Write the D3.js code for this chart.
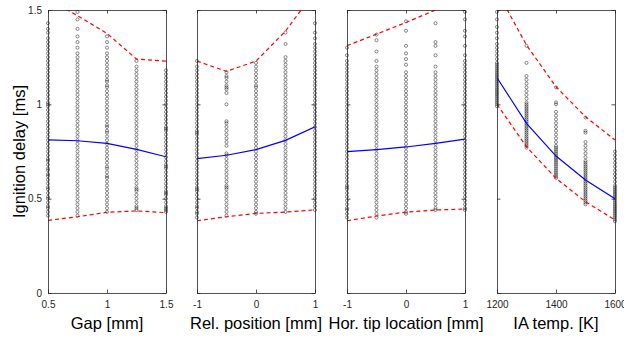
<!DOCTYPE html>
<html>
<head>
<meta charset="utf-8">
<script src="https://cdn.jsdelivr.net/npm/d3@7"></script>
<style>
  html, body { margin: 0; padding: 0; background: #fff; }
  svg { display: block; font-family: "Liberation Sans", Arial, sans-serif; }
</style>
</head>
<body>
<svg id="chart" width="624" height="338"></svg>
<script>
// ---------------- DATA ----------------
const yTickValues = [0, 0.5, 1, 1.5];
const yTickLabels = ["0", "0.5", "1", "1.5"];
const yTitle = "Ignition delay [ms]";

// Panel 1: Gap
const gapTitle = "Gap [mm]";
const gapX = [0.5, 0.75, 1, 1.25, 1.5];
const gapTicks = [0.5, 1, 1.5];
const gapTickLabels = ["0.5", "1", "1.5"];
const gapPoints = [
  [0.41,0.43,0.45,0.46,0.48,0.50,0.51,0.53,0.55,0.56,0.58,0.60,0.62,0.63,0.65,0.66,0.68,0.70,0.71,0.73,0.75,0.77,0.79,0.81,0.83,0.85,0.87,0.89,0.91,0.93,0.95,0.97,0.99,1.00,1.01,1.03,1.05,1.07,1.09,1.11,1.13,1.15,1.17,1.19,1.21,1.23,1.25,1.27,1.29,1.31,1.33,1.35,1.38,1.40,1.43],
  [0.41,0.43,0.45,0.47,0.49,0.51,0.53,0.55,0.57,0.59,0.61,0.63,0.65,0.67,0.69,0.71,0.73,0.75,0.77,0.79,0.81,0.83,0.85,0.87,0.89,0.91,0.93,0.95,0.97,0.99,1.01,1.03,1.05,1.07,1.09,1.11,1.13,1.15,1.17,1.19,1.21,1.23,1.25,1.27,1.30,1.33,1.36,1.40,1.45,1.49],
  [0.43,0.45,0.47,0.49,0.51,0.53,0.55,0.57,0.59,0.61,0.62,0.64,0.66,0.67,0.69,0.71,0.73,0.75,0.77,0.79,0.81,0.83,0.85,0.86,0.88,0.89,0.91,0.93,0.95,0.97,0.99,1.01,1.03,1.05,1.07,1.09,1.10,1.12,1.13,1.15,1.17,1.19,1.21,1.23,1.25,1.27,1.30,1.33,1.36],
  [0.44,0.45,0.46,0.48,0.50,0.52,0.54,0.55,0.56,0.58,0.60,0.62,0.64,0.66,0.68,0.70,0.72,0.74,0.76,0.78,0.80,0.82,0.84,0.86,0.88,0.90,0.92,0.94,0.96,0.98,1.00,1.02,1.04,1.06,1.08,1.10,1.12,1.14,1.16,1.18,1.20,1.23],
  [0.43,0.44,0.45,0.46,0.48,0.50,0.52,0.53,0.54,0.56,0.58,0.60,0.62,0.64,0.66,0.67,0.68,0.70,0.72,0.74,0.76,0.78,0.80,0.82,0.84,0.86,0.87,0.88,0.90,0.92,0.94,0.96,0.98,1.00,1.02,1.04,1.06,1.08,1.10,1.12,1.14,1.16,1.18]
];
const gapFit   = [0.812, 0.807, 0.793, 0.761, 0.722];
const gapUpper = [1.56, 1.47, 1.376, 1.24, 1.229];
const gapLower = [0.385, 0.404, 0.428, 0.435, 0.426];

// Panel 2: Relative position
const relTitle = "Rel. position [mm]";
const relX = [-1, -0.5, 0, 0.5, 1];
const relTicks = [-1, 0, 1];
const relTickLabels = ["-1", "0", "1"];
const relPoints = [
  [0.40,0.42,0.43,0.45,0.46,0.48,0.50,0.52,0.54,0.55,0.56,0.58,0.60,0.62,0.64,0.66,0.68,0.70,0.72,0.74,0.76,0.78,0.80,0.82,0.84,0.85,0.86,0.88,0.90,0.92,0.94,0.96,0.98,1.00,1.02,1.04,1.06,1.08,1.10,1.12,1.14,1.16,1.18,1.20,1.23],
  [0.41,0.43,0.45,0.47,0.49,0.51,0.53,0.55,0.56,0.57,0.59,0.61,0.63,0.65,0.67,0.69,0.71,0.73,0.74,0.78,0.80,0.82,0.84,0.86,0.88,0.90,0.91,1.00,1.06,1.08,1.09,1.10,1.12,1.14,1.15,1.17],
  [0.42,0.43,0.45,0.47,0.49,0.51,0.53,0.55,0.57,0.59,0.61,0.63,0.65,0.67,0.69,0.71,0.73,0.75,0.77,0.79,0.81,0.83,0.85,0.87,0.89,0.91,0.93,0.95,0.97,0.99,1.01,1.03,1.05,1.07,1.09,1.10,1.12,1.14,1.16,1.18,1.20,1.22],
  [0.43,0.45,0.47,0.49,0.51,0.53,0.55,0.57,0.59,0.61,0.63,0.65,0.67,0.69,0.71,0.73,0.75,0.77,0.79,0.81,0.83,0.85,0.87,0.89,0.91,0.93,0.95,0.97,0.99,1.01,1.03,1.05,1.07,1.09,1.11,1.13,1.15,1.17,1.19,1.21,1.23,1.25,1.32,1.38],
  [0.44,0.46,0.48,0.50,0.52,0.54,0.56,0.58,0.60,0.62,0.64,0.66,0.68,0.70,0.72,0.74,0.76,0.78,0.80,0.82,0.84,0.86,0.88,0.90,0.92,0.94,0.96,0.98,1.00,1.02,1.04,1.06,1.08,1.10,1.12,1.14,1.16,1.18,1.20,1.22,1.24,1.26,1.28,1.30,1.32,1.35,1.38,1.43]
];
const relFit   = [0.712, 0.730, 0.760, 0.809, 0.881];
const relUpper = [1.229, 1.175, 1.229, 1.388, 1.60];
const relLower = [0.383, 0.404, 0.422, 0.429, 0.441];

// Panel 3: Horizontal tip location
const horTitle = "Hor. tip location [mm]";
const horX = [-1, -0.5, 0, 0.5, 1];
const horTicks = [-1, 0, 1];
const horTickLabels = ["-1", "0", "1"];
const horPoints = [
  [0.40,0.42,0.44,0.45,0.47,0.49,0.51,0.53,0.55,0.56,0.57,0.59,0.61,0.63,0.65,0.67,0.69,0.71,0.73,0.75,0.77,0.79,0.81,0.83,0.85,0.87,0.89,0.91,0.93,0.95,0.97,0.99,1.01,1.03,1.05,1.07,1.09,1.11,1.13,1.15,1.17,1.19,1.21,1.23,1.26,1.30],
  [0.40,0.42,0.44,0.46,0.48,0.50,0.52,0.54,0.56,0.58,0.60,0.62,0.64,0.66,0.68,0.70,0.72,0.74,0.76,0.78,0.80,0.82,0.84,0.86,0.88,0.90,0.92,0.94,0.96,0.98,1.00,1.02,1.04,1.06,1.08,1.10,1.12,1.14,1.16,1.18,1.20,1.23,1.28,1.34,1.37],
  [0.42,0.43,0.45,0.47,0.49,0.51,0.53,0.55,0.57,0.59,0.61,0.63,0.65,0.67,0.69,0.71,0.73,0.75,0.77,0.79,0.81,0.83,0.85,0.87,0.89,0.91,0.93,0.95,0.97,0.99,1.01,1.03,1.05,1.07,1.09,1.11,1.13,1.15,1.17,1.21,1.24,1.27,1.31,1.39,1.44],
  [0.44,0.45,0.47,0.49,0.51,0.53,0.55,0.57,0.59,0.61,0.63,0.65,0.67,0.69,0.71,0.73,0.75,0.77,0.79,0.81,0.83,0.85,0.87,0.89,0.91,0.93,0.95,0.97,0.99,1.01,1.03,1.05,1.07,1.09,1.11,1.13,1.15,1.17,1.20,1.26,1.31,1.33,1.43],
  [0.44,0.45,0.47,0.49,0.51,0.53,0.55,0.57,0.59,0.61,0.63,0.65,0.67,0.69,0.71,0.73,0.75,0.77,0.79,0.81,0.83,0.85,0.87,0.89,0.91,0.93,0.95,0.97,0.99,1.01,1.03,1.05,1.07,1.09,1.11,1.13,1.15,1.17,1.19,1.21,1.23,1.26,1.31,1.36,1.39,1.45,1.49]
];
const horFit   = [0.749, 0.760, 0.774, 0.793, 0.816];
const horUpper = [1.311, 1.372, 1.434, 1.50, 1.58];
const horLower = [0.383, 0.408, 0.429, 0.440, 0.445];

// Panel 4: IA temperature
const tempTitle = "IA temp. [K]";
const tempX = [1200, 1300, 1400, 1500, 1600];
const tempTicks = [1200, 1400, 1600];
const tempTickLabels = ["1200", "1400", "1600"];
const tempPoints = [
  [0.99,1.00,1.01,1.02,1.03,1.04,1.05,1.06,1.07,1.08,1.09,1.10,1.11,1.12,1.13,1.14,1.15,1.16,1.17,1.18,1.19,1.20,1.21,1.22,1.24,1.26,1.28,1.30,1.32,1.35,1.38,1.41,1.45,1.49],
  [0.77,0.78,0.79,0.80,0.81,0.82,0.83,0.84,0.85,0.86,0.87,0.88,0.89,0.90,0.91,0.92,0.93,0.94,0.95,0.96,0.97,0.98,0.99,1.00,1.01,1.03,1.05,1.07,1.09,1.11,1.13,1.15,1.22,1.31],
  [0.61,0.62,0.63,0.64,0.65,0.66,0.67,0.68,0.69,0.70,0.71,0.72,0.73,0.74,0.75,0.76,0.77,0.78,0.80,0.82,0.84,0.86,0.88,0.90,0.92,0.94,0.96,1.00,1.01,1.09],
  [0.47,0.48,0.49,0.50,0.51,0.52,0.53,0.54,0.55,0.56,0.57,0.58,0.59,0.60,0.61,0.62,0.63,0.64,0.65,0.66,0.67,0.68,0.69,0.70,0.72,0.74,0.76,0.78,0.80,0.85,0.86,0.93],
  [0.38,0.39,0.40,0.41,0.42,0.43,0.44,0.45,0.46,0.47,0.48,0.49,0.50,0.51,0.52,0.53,0.54,0.55,0.56,0.57,0.59,0.61,0.63,0.65,0.67,0.69,0.71,0.73,0.75]
];
const tempFit   = [1.141, 0.899, 0.726, 0.599, 0.500];
const tempUpper = [1.60, 1.314, 1.093, 0.934, 0.811];
const tempLower = [1.000, 0.775, 0.608, 0.484, 0.387];

// ---------------- LAYOUT ----------------
const svg = d3.select("#chart");
const topY = 10, bottomY = 293, pw = 118;
const lefts = [48, 197, 347, 497];
const axisColor = "#262626";
const tickLen = 3.5;

const panels = [
  { title: gapTitle, xs: gapX, ticks: gapTicks, tickLabels: gapTickLabels, pts: gapPoints, fit: gapFit, up: gapUpper, lo: gapLower },
  { title: relTitle, xs: relX, ticks: relTicks, tickLabels: relTickLabels, pts: relPoints, fit: relFit, up: relUpper, lo: relLower },
  { title: horTitle, xs: horX, ticks: horTicks, tickLabels: horTickLabels, pts: horPoints, fit: horFit, up: horUpper, lo: horLower },
  { title: tempTitle, xs: tempX, ticks: tempTicks, tickLabels: tempTickLabels, pts: tempPoints, fit: tempFit, up: tempUpper, lo: tempLower }
];

const y = d3.scaleLinear().domain([0, 1.5]).range([bottomY, topY]);

panels.forEach((p, i) => {
  const left = lefts[i];
  const x = d3.scaleLinear().domain(d3.extent(p.xs)).range([left, left + pw]);
  const g = svg.append("g");

  const clipId = "clip" + i;
  svg.append("clipPath").attr("id", clipId)
    .append("rect").attr("x", left).attr("y", topY).attr("width", pw).attr("height", bottomY - topY);

  // scatter
  const flat = [];
  p.pts.forEach((col, ci) => col.forEach(v => flat.push([p.xs[ci], v])));
  g.append("g").selectAll("circle").data(flat).join("circle")
    .attr("cx", d => x(d[0])).attr("cy", d => y(d[1])).attr("r", 1.55)
    .attr("fill", "none").attr("stroke", "#000").attr("stroke-opacity", 0.7).attr("stroke-width", 0.65);

  const line = d3.line().x((d, k) => x(p.xs[k])).y(d => y(d));
  const lg = g.append("g").attr("clip-path", `url(#${clipId})`);
  lg.append("path").attr("d", line(p.fit)).attr("fill", "none").attr("stroke", "#0000ff").attr("stroke-width", 1.2);
  [p.up, p.lo].forEach(arr => {
    lg.append("path").attr("d", line(arr)).attr("fill", "none").attr("stroke", "#ff0000")
      .attr("stroke-width", 1.2).attr("stroke-dasharray", "4,3");
  });

  // axes box + inward ticks
  const xb = d3.axisBottom(x).tickValues(p.ticks).tickSizeInner(-tickLen).tickSizeOuter(0)
    .tickFormat((d, k) => p.tickLabels[k]).tickPadding(8);
  const xt = d3.axisTop(x).tickValues(p.ticks).tickSizeInner(-tickLen).tickSizeOuter(0).tickFormat("");
  const yl = d3.axisLeft(y).tickValues(yTickValues).tickSizeInner(-tickLen).tickSizeOuter(0)
    .tickFormat((d, k) => i === 0 ? yTickLabels[k] : "").tickPadding(6);
  const yr = d3.axisRight(y).tickValues(yTickValues).tickSizeInner(-tickLen).tickSizeOuter(0).tickFormat("");

  const styleAxis = sel => {
    sel.selectAll("path, line").attr("stroke", axisColor).attr("stroke-width", 0.8);
    sel.selectAll("text").attr("fill", axisColor).attr("font-size", 10)
      .attr("font-family", "'Liberation Sans', Arial, sans-serif");
  };
  g.append("g").attr("transform", `translate(0,${bottomY})`).call(xb).call(styleAxis);
  g.append("g").attr("transform", `translate(0,${topY})`).call(xt).call(styleAxis);
  g.append("g").attr("transform", `translate(${left},0)`).call(yl).call(styleAxis);
  g.append("g").attr("transform", `translate(${left + pw},0)`).call(yr).call(styleAxis);

  g.append("text").attr("x", left + pw / 2).attr("y", 329).attr("text-anchor", "middle")
    .attr("font-size", 16.5).attr("fill", "#000").text(p.title);
});

svg.append("text")
  .attr("transform", `translate(25,${(topY + bottomY) / 2}) rotate(-90)`)
  .attr("text-anchor", "middle").attr("font-size", 16.5).attr("fill", "#000")
  .text(yTitle);
</script>
</body>
</html>
